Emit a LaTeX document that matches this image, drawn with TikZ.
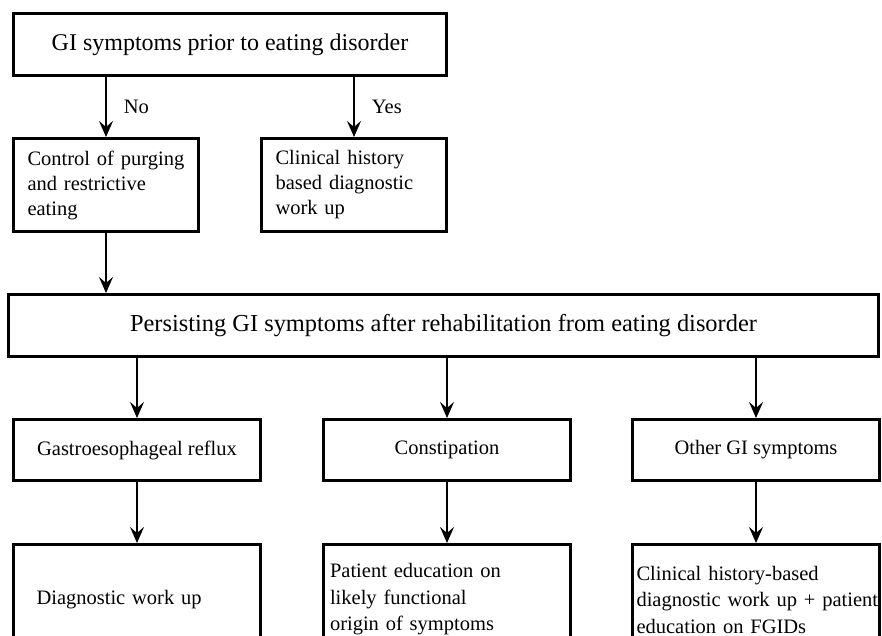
\documentclass[tikz,border=0pt]{standalone}
\usepackage{fontspec}
\setmainfont{Liberation Serif}
\usetikzlibrary{arrows.meta}
\tikzstyle{head} = [rectangle,draw=black,line width=3pt,minimum width=433pt,minimum height=62pt,font=\fontsize{24}{28}\selectfont]
\tikzstyle{route} = [rectangle,draw=black,line width=3pt,minimum width=185pt,minimum height=93pt,text width=157pt,inner xsep=14pt,align=left,font=\fontsize{20.5}{25}\selectfont]
\tikzstyle{persist} = [rectangle,draw=black,line width=3pt,minimum width=870pt,minimum height=62pt,font=\fontsize{24.4}{28}\selectfont]
\tikzstyle{kind} = [rectangle,draw=black,line width=3pt,minimum width=247pt,minimum height=61pt,font=\fontsize{20.5}{24.5}\selectfont]
\tikzstyle{advice} = [rectangle,draw=black,line width=3pt,minimum width=247pt,minimum height=110pt,align=left,font=\fontsize{20.5}{26.5}\selectfont]
\tikzstyle{arrow} = [-{Stealth[length=16pt,width=14pt,inset=6pt]},line width=1.8pt]
\tikzstyle{answer} = [anchor=west,inner sep=0pt,xshift=17pt,font=\fontsize{20.5}{24.5}\selectfont]

\begin{document}
\begin{tikzpicture}[x=1pt,y=1pt,node distance=140pt]
    \useasboundingbox (0,0) rectangle (882,-636);
    \clip (0,0) rectangle (882,-636);

    % Question
    \node[head] (prior) at (230,-44.5) {GI symptoms prior to eating disorder};

    % First steps
    \node[route,below of=prior,xshift=-124pt,yshift=-0.5pt] (control) {Control of purging\\and restrictive\\eating};
    \node[route,right of=control,xshift=108pt] (history) {Clinical history\\based diagnostic\\work up};

    % After rehabilitation
    \node[persist,below of=control,xshift=337.5pt,yshift=-0.5pt] (rehab) {Persisting GI symptoms after rehabilitation from eating disorder};

    % Symptom groups
    \node[kind,below of=rehab,xshift=-306.5pt,yshift=15.5pt] (reflux) {Gastroesophageal reflux};
    \node[kind,right of=reflux,xshift=170pt] (constip) {Constipation};
    \node[kind,right of=constip,xshift=169pt] (other) {Other GI symptoms};

    % Management
    \node[advice,below of=reflux,yshift=-9.5pt,text width=201pt,inner xsep=23pt] (workup) {Diagnostic work up};
    \node[advice,below of=constip,yshift=-9.5pt,text width=234pt,inner xsep=6.5pt] (educate) {Patient education on\\likely functional\\origin of symptoms};
    \node[advice,below of=other,yshift=-9.5pt,text width=239pt,inner xsep=4pt] (combined) {Clinical history-based\\\mbox{diagnostic work up + patient}\\education on FGIDs};

    % arrow
    \draw[arrow] (prior.south -| control.north) -- node[answer] {No} (control.north);
    \draw[arrow] (prior.south -| history.north) -- node[answer] {Yes} (history.north);
    \draw[arrow] (control.south) -- (control.south |- rehab.north);
    \draw[arrow] (rehab.south -| reflux.north) -- (reflux.north);
    \draw[arrow] (rehab.south -| constip.north) -- (constip.north);
    \draw[arrow] (rehab.south -| other.north) -- (other.north);
    \draw[arrow] (reflux) -- (workup);
    \draw[arrow] (constip) -- (educate);
    \draw[arrow] (other) -- (combined);
\end{tikzpicture}
\end{document}
